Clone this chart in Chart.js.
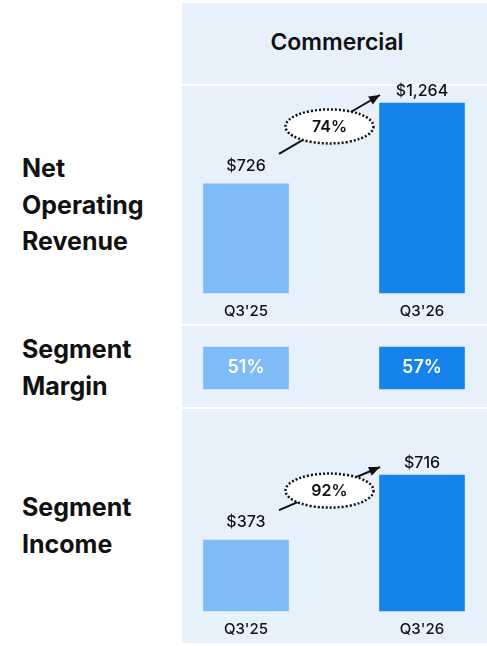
<!DOCTYPE html><html><head><meta charset="utf-8">
<script src="https://cdn.jsdelivr.net/npm/chart.js@4"></script>
<style>
body{margin:0;width:487px;height:646px;background:#fff;font-family:Inter,"Liberation Sans",sans-serif;position:relative;overflow:hidden}
.panel{position:absolute;left:182px;top:3px;width:305px;height:640px;background:#e7f1fc}
.sep{position:absolute;left:182px;width:305px;height:2px;background:#fff}
.lab{position:absolute;left:22px;font-weight:700;font-size:25px;line-height:36.5px;color:#111}
.title{position:absolute;left:182px;width:310px;top:28px;text-align:center;font-size:23px;font-weight:600;color:#111}
.c{position:absolute;left:182px;width:305px}
</style></head><body>
<div class="panel"></div>
<div class="sep" style="top:84px"></div><div class="sep" style="top:324px"></div><div class="sep" style="top:407px"></div>
<div class="title">Commercial</div>
<div class="lab" style="top:150px">Net<br>Operating<br>Revenue</div>
<div class="lab" style="top:331px">Segment<br>Margin</div>
<div class="lab" style="top:489px">Segment<br>Income</div>
<div class="c" style="top:60px;height:264px"><canvas id="rev"></canvas></div>
<div class="c" style="top:326px;height:81px"><canvas id="mar"></canvas></div>
<div class="c" style="top:409px;height:234px"><canvas id="inc"></canvas></div>
<script>
const categories=["Q3'25","Q3'26"];
const revenue=[726,1264];
const revenueLabels=["$726","$1,264"];
const revenueGrowth="74%";
const margin=[51,57];
const marginLabels=["51%","57%"];
const income=[373,716];
const incomeLabels=["$373","$716"];
const incomeGrowth="92%";
const colors=["#7fbbf6","#1683ed"];
const FONT="Inter, 'Liberation Sans', sans-serif";

function mk(id,vals,labels,growth,ymax,padTop,padBottom,mode){
  const plug={id:'ann',afterDatasetsDraw(ch){
    const c=ch.ctx,m=ch.getDatasetMeta(0);
    c.save();c.textAlign='center';c.textBaseline='middle';
    m.data.forEach((b,i)=>{
      if(mode==='m'){c.fillStyle='#fff';c.font='600 18px '+FONT;c.fillText(labels[i],b.x,(b.y+b.base)/2);}
      else{
        c.fillStyle='#111';c.font='500 16px '+FONT;c.fillText(labels[i],b.x,b.y-(i?12:18));
        c.font='500 15px '+FONT;c.fillText(categories[i],b.x,b.base+18);
      }
    });
    if(mode!=='m'){
      const a=m.data[0],b=m.data[1];
      const x1=a.x+33,y1=a.y-30,x2=b.x-42,y2=b.y-8;
      c.strokeStyle='#111';c.lineWidth=2;c.beginPath();c.moveTo(x1,y1);c.lineTo(x2,y2);c.stroke();
      const ang=Math.atan2(y2-y1,x2-x1);c.fillStyle='#111';c.beginPath();
      c.moveTo(x2,y2);c.lineTo(x2-12*Math.cos(ang-0.4),y2-12*Math.sin(ang-0.4));c.lineTo(x2-12*Math.cos(ang+0.4),y2-12*Math.sin(ang+0.4));c.closePath();c.fill();
      const cx=(x1+x2)/2,cy=(y1+y2)/2+2;
      c.fillStyle='#fff';c.setLineDash([2,2]);c.lineWidth=2.5;c.beginPath();c.ellipse(cx,cy,44,17,0,0,Math.PI*2);c.fill();c.stroke();c.setLineDash([]);
      c.fillStyle='#111';c.font='600 16px '+FONT;c.fillText(growth,cx,cy+1);
    }
    c.restore();
  }};
  const data=mode==='m'?vals.map(()=>[0,1]):vals;
  return new Chart(document.getElementById(id),{type:'bar',
    data:{labels:categories,datasets:[{data,backgroundColor:colors,barThickness:85,borderWidth:0,clip:false}]},
    options:{responsive:true,maintainAspectRatio:false,animation:false,
      layout:{padding:{left:64,right:65,bottom:padBottom,top:padTop}},
      plugins:{legend:{display:false},tooltip:{enabled:false}},
      scales:{x:{offset:false,display:false},
              y:{min:0,max:ymax,display:false}}},
    plugins:[plug]});
}
mk('rev',revenue,revenueLabels,revenueGrowth,1264,43,31,'r');
mk('mar',margin,marginLabels,'',1,21,18,'m');
mk('inc',income,incomeLabels,incomeGrowth,716,66,32,'i');
</script></body></html>
